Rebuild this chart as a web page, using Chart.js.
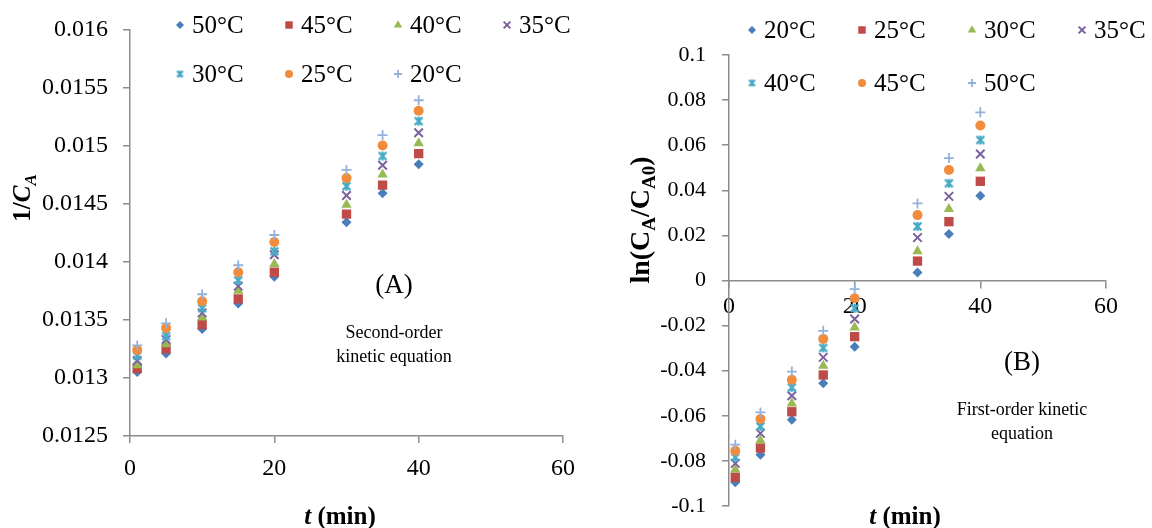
<!DOCTYPE html>
<html>
<head>
<meta charset="utf-8">
<script src="https://cdn.jsdelivr.net/npm/chart.js@4.4.0/dist/chart.umd.min.js"></script>
<style>
html, body { margin: 0; padding: 0; background: #fff; }
#wrap { position: relative; width: 1152px; height: 528px; overflow: hidden; }
#left { position: absolute; left: 0; top: 0; }
#right { position: absolute; left: 600px; top: 0; }
</style>
</head>
<body>
<div id="wrap">
  <canvas id="left" width="600" height="528"></canvas>
  <canvas id="right" width="552" height="528"></canvas>
</div>
<script>
// sampling times (min), same for both panels
const times = [1, 5, 10, 15, 20, 30, 35, 40]

// (A) second-order: 1/CA
const labelsA = ['50°C', '45°C', '40°C', '35°C', '30°C', '25°C', '20°C']
const invCa50 = [0.01305, 0.01321, 0.01342, 0.01364, 0.01387, 0.01434, 0.01459, 0.01484]
const invCa45 = [0.01308, 0.01325, 0.01346, 0.01368, 0.01391, 0.01441, 0.01466, 0.01493]
const invCa40 = [0.01311, 0.01329, 0.01352, 0.01375, 0.01398, 0.01449, 0.01475, 0.01502]
const invCa35 = [0.01315, 0.01333, 0.01356, 0.01379, 0.01406, 0.01457, 0.01483, 0.01511]
const invCa30 = [0.01319, 0.01336, 0.01360, 0.01384, 0.01409, 0.01465, 0.01491, 0.01521]
const invCa25 = [0.01324, 0.01343, 0.01366, 0.01391, 0.01417, 0.01472, 0.01500, 0.01530]
const invCa20 = [0.01328, 0.01347, 0.01372, 0.01397, 0.01423, 0.01479, 0.01509, 0.01539]

// (B) first-order: ln(CA/CA0)
const labelsB = ['20°C', '25°C', '30°C', '35°C', '40°C', '45°C', '50°C']
const lnCa20 = [-0.0895, -0.0773, -0.0617, -0.0456, -0.0294, 0.0035, 0.0206, 0.0376]
const lnCa25 = [-0.0873, -0.0743, -0.0582, -0.0419, -0.0249, 0.0086, 0.0261, 0.0440]
const lnCa30 = [-0.0839, -0.0710, -0.0545, -0.0378, -0.0208, 0.0130, 0.0317, 0.0498]
const lnCa35 = [-0.0811, -0.0678, -0.0511, -0.0341, -0.0171, 0.0190, 0.0373, 0.0561]
const lnCa40 = [-0.0784, -0.0647, -0.0474, -0.0299, -0.0123, 0.0240, 0.0431, 0.0623]
const lnCa45 = [-0.0755, -0.0614, -0.0440, -0.0259, -0.0079, 0.0290, 0.0490, 0.0687]
const lnCa50 = [-0.0728, -0.0585, -0.0404, -0.0223, -0.0038, 0.0342, 0.0543, 0.0746]

const xTicks = [0, 20, 40, 60]

const SERIF = '"Liberation Serif", "Times New Roman", serif'
Chart.defaults.font.family = SERIF
const axisGray = '#8c8c8c'

// excel style asterisk marker (x with a vertical bar)
function makeStar(size, color, lw) {
    const c = document.createElement('canvas')
    c.width = size; c.height = size
    const g = c.getContext('2d')
    const m = lw / 2 + 0.5
    g.strokeStyle = color
    g.lineWidth = lw
    g.beginPath()
    g.moveTo(m, m); g.lineTo(size - m, size - m)
    g.moveTo(size - m, m); g.lineTo(m, size - m)
    g.moveTo(size / 2, m - 0.5); g.lineTo(size / 2, size - m + 0.5)
    g.stroke()
    return c
}

const markers = [
    {color: '#4A7EBB', style: 'rectRot', r: 5, bw: 0},
    {color: '#BE4B48', style: 'rect', r: 6.6, bw: 0},
    {color: '#98B954', style: 'triangle', r: 6, bw: 0},
    {color: '#7D60A0', style: 'crossRot', r: 6, bw: 2},
    {color: '#46AAC5', style: makeStar(11, '#46AAC5', 2.2), legend: makeStar(9, '#46AAC5', 2), r: 5.5, bw: 0},
    {color: '#F08C3C', style: 'circle', r: 5, bw: 0},
    {color: '#93B1DB', style: 'cross', r: 5, bw: 1.8}
]

function buildSets(labels, series) {
    return series.map((vals, i) => {
        const mk = markers[i]
        return {
            label: labels[i],
            data: times.map((t, j) => ({x: t, y: vals[j]})),
            pointStyle: mk.style,
            legendStyle: mk.legend || mk.style,
            pointRadius: mk.r,
            pointBorderWidth: mk.bw,
            backgroundColor: mk.color,
            borderColor: mk.color,
            showLine: false,
            order: -i
        }
    })
}

// draws mixed font text (subscripts etc), centred on cx, cy
function richText(ctx, parts, cx, cy, angle) {
    ctx.save()
    ctx.translate(cx, cy)
    ctx.rotate(angle || 0)
    ctx.textBaseline = 'alphabetic'
    ctx.textAlign = 'left'
    ctx.fillStyle = '#000'
    let w = 0
    parts.forEach(p => { ctx.font = p.font; w += ctx.measureText(p.text).width })
    let x = -w / 2
    parts.forEach(p => {
        ctx.font = p.font
        ctx.fillText(p.text, x, (p.dy || 0))
        x += ctx.measureText(p.text).width
    })
    ctx.restore()
}

const overlay = {
    id: 'overlay',
    afterDraw(chart, args, opts) {
        const ctx = chart.ctx
        const area = chart.chartArea
        chart.data.datasets.forEach((ds, i) => {
            const col = i % 4, row = Math.floor(i / 4)
            const x = area.left + opts.legendX + col * opts.legendStep
            const y = opts.legendY[row]
            ctx.save()
            ctx.fillStyle = ds.backgroundColor
            ctx.strokeStyle = ds.borderColor
            ctx.lineWidth = ds.pointBorderWidth
            Chart.helpers.drawPoint(ctx, {
                pointStyle: ds.legendStyle, rotation: 0,
                radius: ds.pointRadius * 0.8, borderWidth: ds.pointBorderWidth
            }, x, y)
            ctx.fillStyle = '#000'
            ctx.font = '25px ' + SERIF
            ctx.textBaseline = 'middle'
            ctx.textAlign = 'left'
            ctx.fillText(ds.label, x + 12, y + 1)
            ctx.restore()
        })
        opts.notes.forEach(n => richText(ctx, n.parts, n.x, n.y, n.angle))
    }
}

function axisOpts(min, max, step, fontSize, pad, fmt) {
    return {
        type: 'linear', min: min, max: max,
        ticks: {stepSize: step, font: {size: fontSize}, color: '#000', padding: pad, maxRotation: 0, callback: fmt},
        grid: {drawOnChartArea: false, drawTicks: true, tickLength: 7, color: axisGray, lineWidth: 1.5},
        border: {color: axisGray, width: 1.5}
    }
}

const B = 'bold 25px ' + SERIF
const BI = 'italic bold 25px ' + SERIF
const SUBI = 'italic bold 17px ' + SERIF
const B2 = 'bold 28px ' + SERIF
const SUB2 = 'bold 19px ' + SERIF
const NOTE = '18px ' + SERIF

// ---- (A)
const xA = axisOpts(0, 60, 20, 24, 11, v => xTicks.includes(v) ? String(v) : '')
xA.afterFit = s => { s.height = 92 }
const yA = axisOpts(0.0125, 0.016, 0.0005, 24, 15, v => String(+v.toFixed(4)))
yA.afterFit = s => { s.width = 130 }

new Chart(document.getElementById('left'), {
    type: 'scatter',
    data: {datasets: buildSets(labelsA, [invCa50, invCa45, invCa40, invCa35, invCa30, invCa25, invCa20])},
    options: {
        responsive: false, animation: false, events: [],
        layout: {padding: {top: 29, right: 37, left: 0, bottom: 0}},
        scales: {x: xA, y: yA},
        plugins: {
            legend: {display: false}, tooltip: {enabled: false},
            overlay: {
                legendX: 50, legendStep: 109, legendY: [25, 74],
                notes: [
                    {x: 22, y: 198, angle: -Math.PI / 2, parts: [
                        {text: '1/', font: B, dy: 8}, {text: 'C', font: BI, dy: 8}, {text: 'A', font: SUBI, dy: 14}]},
                    {x: 340, y: 524, parts: [{text: 't', font: BI}, {text: ' (min)', font: B}]},
                    {x: 394, y: 293, parts: [{text: '(A)', font: '27px ' + SERIF}]},
                    {x: 394, y: 338, parts: [{text: 'Second-order', font: NOTE}]},
                    {x: 394, y: 362, parts: [{text: 'kinetic equation', font: NOTE}]}
                ]
            }
        }
    },
    plugins: [overlay]
})

// ---- (B)
const xB = axisOpts(0, 60, 20, 24, 5, v => xTicks.includes(v) ? String(v) : '')
xB.position = {y: 0}
// axis crosses at y = 0, so it should not reserve room at the edges
xB.afterFit = s => { s.height = 0; s.paddingTop = 0; s.paddingBottom = 0 }
const yB = axisOpts(-0.1, 0.1, 0.02, 22, 16, v => String(+v.toFixed(2)))
yB.afterFit = s => { s.width = 129; s.paddingTop = 0; s.paddingBottom = 0 }

new Chart(document.getElementById('right'), {
    type: 'scatter',
    data: {datasets: buildSets(labelsB, [lnCa20, lnCa25, lnCa30, lnCa35, lnCa40, lnCa45, lnCa50])},
    options: {
        responsive: false, animation: false, events: [],
        layout: {padding: {top: 55, right: 46, left: 0, bottom: 22}},
        scales: {x: xB, y: yB},
        plugins: {
            legend: {display: false}, tooltip: {enabled: false},
            overlay: {
                legendX: 23, legendStep: 110, legendY: [30, 83],
                notes: [
                    {x: 40, y: 220, angle: -Math.PI / 2, parts: [
                        {text: 'ln(C', font: B2, dy: 9}, {text: 'A', font: SUB2, dy: 15},
                        {text: '/C', font: B2, dy: 9}, {text: 'A0', font: SUB2, dy: 15},
                        {text: ')', font: B2, dy: 9}]},
                    {x: 305, y: 524, parts: [{text: 't', font: BI}, {text: ' (min)', font: B}]},
                    {x: 422, y: 370, parts: [{text: '(B)', font: '27px ' + SERIF}]},
                    {x: 422, y: 415, parts: [{text: 'First-order kinetic', font: NOTE}]},
                    {x: 422, y: 439, parts: [{text: 'equation', font: NOTE}]}
                ]
            }
        }
    },
    plugins: [overlay]
})
</script>
</body>
</html>
